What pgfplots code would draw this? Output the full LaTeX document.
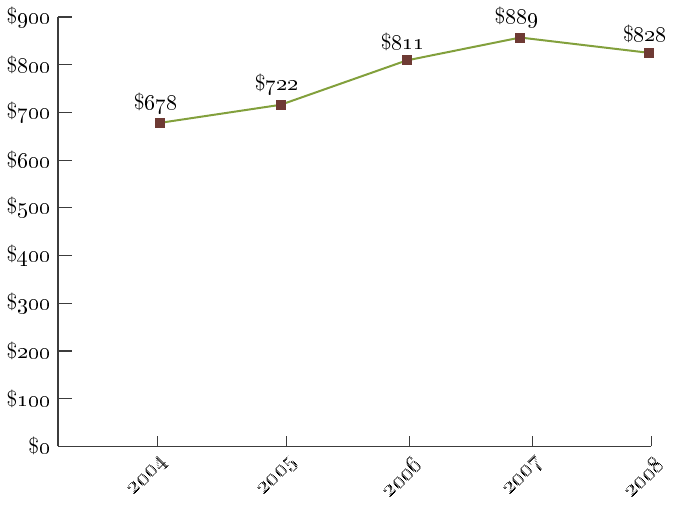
\documentclass[border=0pt]{standalone}
\usepackage{pgfplots}
\pgfplotsset{compat=1.18}
\definecolor{linegreen}{RGB}{130,160,60}
\definecolor{markbrown}{RGB}{110,58,52}
\definecolor{axisgray}{RGB}{60,60,60}
\begin{document}
\begin{tikzpicture}
\begin{axis}[
  scale only axis, width=297pt, height=215pt,
  xmin=2003.198, xmax=2008, ymin=0, ymax=900,
  axis lines=left,
  axis line style={-, axisgray, line width=0.7pt},
  clip=false,
  xtick={2004,2005.05,2006.044,2007.038,2008},
  xticklabels={\oldstylenums{2004},\oldstylenums{2005},\oldstylenums{2006},\oldstylenums{2007},\oldstylenums{2008}},
  ytick={0,100,200,300,400,500,600,700,800,900},
  yticklabels={\$\oldstylenums{0},\$\oldstylenums{100},\$\oldstylenums{200},\$\oldstylenums{300},\$\oldstylenums{400},\$\oldstylenums{500},\$\oldstylenums{600},\$\oldstylenums{700},\$\oldstylenums{800},\$\oldstylenums{900}},
  tick align=inside,
  major tick length=7pt,
  x tick style={/pgfplots/major tick length=5pt},
  tick style={axisgray, line width=0.6pt},
  x tick label style={xshift=6.5pt, yshift=-4.5pt, rotate=45, anchor=east, font=\fontsize{12}{14}\selectfont},
  y tick label style={font=\fontsize{11}{13}\selectfont, xshift=-0.5pt},
  nodes near coords={\$\oldstylenums{\pgfplotspointmeta}},
  point meta=explicit symbolic,
  nodes near coords style={font=\fontsize{11}{13}\selectfont, anchor=south, xshift=-2pt, yshift=1pt, text=black},
]
\addplot[color=linegreen, line width=1pt, mark=square*, mark size=2pt,
  mark options={fill=markbrown, draw=markbrown}]
  coordinates {
    (2004.02,678) [678]
    (2005.00,716) [722]
    (2006.02,809) [811]
    (2006.94,857) [889]
    (2007.98,825) [828]
  };
\end{axis}
\end{tikzpicture}
\end{document}
